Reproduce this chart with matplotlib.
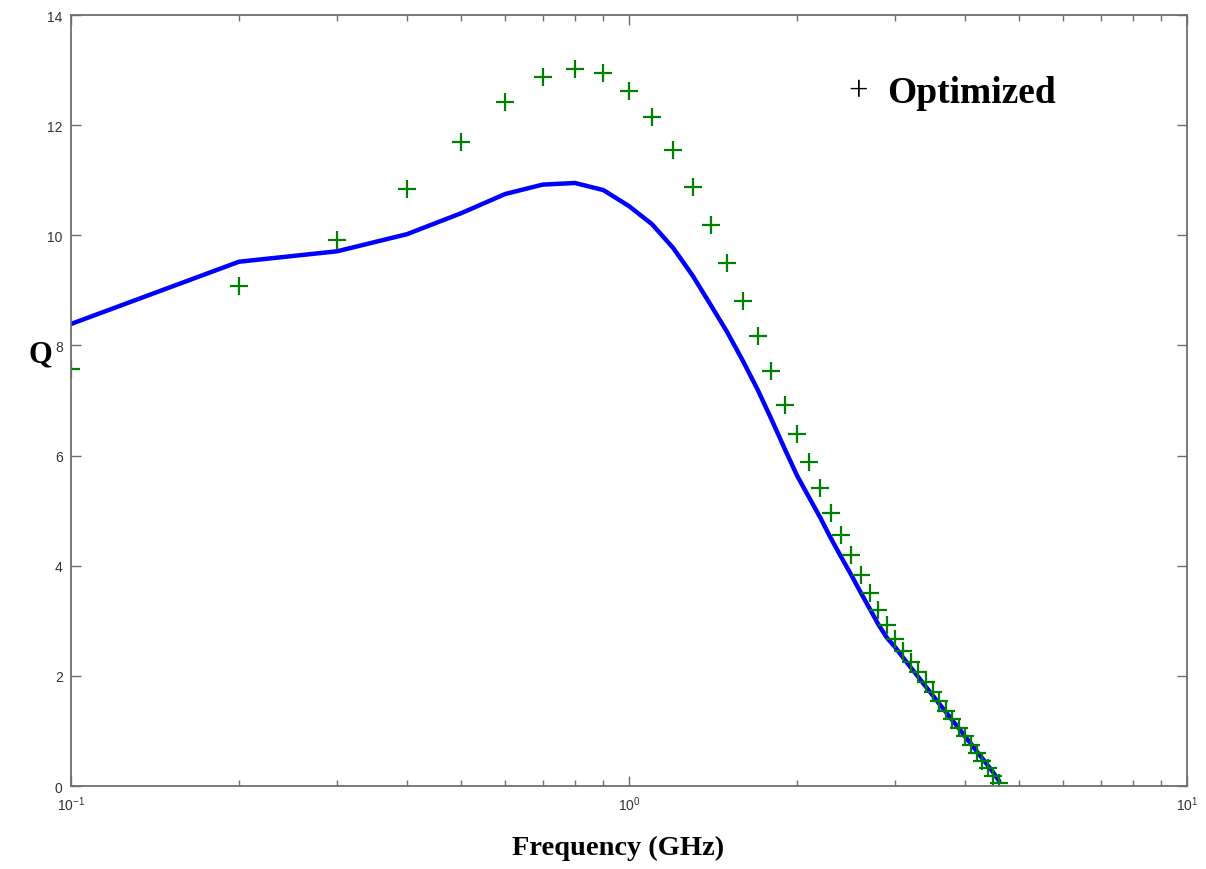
import matplotlib
matplotlib.use("Agg")
import matplotlib.pyplot as plt

# frequency points (GHz)
freq = [0.1, 0.2, 0.3, 0.4, 0.5, 0.6, 0.7, 0.8, 0.9, 1.0,
        1.1, 1.2, 1.3, 1.4, 1.5, 1.6, 1.7, 1.8, 1.9, 2.0,
        2.1, 2.2, 2.3, 2.4, 2.5, 2.6, 2.7, 2.8, 2.9, 3.0,
        3.1, 3.2, 3.3, 3.4, 3.5, 3.6, 3.7, 3.8, 3.9, 4.0,
        4.1, 4.2, 4.3, 4.4, 4.5, 4.6]

# blue curve
q_line = [8.39, 9.52, 9.71, 10.02, 10.40, 10.75, 10.92, 10.95, 10.82, 10.53,
          10.20, 9.77, 9.27, 8.74, 8.24, 7.72, 7.20, 6.66, 6.13, 5.64,
          5.25, 4.88, 4.50, 4.16, 3.84, 3.52, 3.22, 2.93, 2.69, 2.52,
          2.33, 2.15, 1.98, 1.81, 1.65, 1.49, 1.34, 1.19, 1.05, 0.90,
          0.77, 0.63, 0.50, 0.37, 0.24, 0.10]

# optimized (green +)
q_opt = [7.57, 9.08, 9.91, 10.84, 11.69, 12.42, 12.87, 13.02, 12.95, 12.62,
         12.15, 11.55, 10.88, 10.19, 9.49, 8.81, 8.17, 7.54, 6.92, 6.39,
         5.89, 5.41, 4.95, 4.55, 4.19, 3.83, 3.50, 3.20, 2.92, 2.67,
         2.45, 2.26, 2.07, 1.89, 1.71, 1.54, 1.37, 1.21, 1.05, 0.90,
         0.75, 0.60, 0.46, 0.32, 0.18, 0.05]

xtick_vals = [0.1, 1, 10]
xtick_labels = [r"$\mathregular{10^{-1}}$", r"$\mathregular{10^{0}}$", r"$\mathregular{10^{1}}$"]
ytick_vals = [0, 2, 4, 6, 8, 10, 12, 14]

plt.rcParams['font.family'] = ['Liberation Sans', 'DejaVu Sans']

fig = plt.figure(figsize=(12.06, 8.70), dpi=100)
ax = fig.add_axes([0.0589, 0.0954, 0.9253, 0.8862])

ax.plot(freq, q_line, color='#0000ff', linewidth=3.2, solid_joinstyle='round')
ax.plot(freq, q_opt, linestyle='none', marker='+', color='#008000',
        markersize=13, markeredgewidth=1.6)

ax.set_xscale('log')
ax.set_xlim(0.1, 10)
ax.set_ylim(0, 14)
ax.set_xticks(xtick_vals)
ax.set_xticklabels(xtick_labels)
ax.set_yticks(ytick_vals)

for s in ax.spines.values():
    s.set_color('#6e6e6e')
    s.set_linewidth(1.3)
ax.tick_params(which='both', direction='in', top=True, right=True,
               color='#6e6e6e', labelcolor='#333333', labelsize=10)
ax.tick_params(which='major', length=7, width=1.0, pad=6)
ax.tick_params(which='minor', length=4, width=1.0)

serif = ['Liberation Serif', 'DejaVu Serif']
fig.text(0.0332, 0.592, 'Q', family=serif, fontweight='bold', fontsize=22,
         ha='center', va='center')
fig.text(0.5125, 0.0253, 'Frequency (GHz)', family=serif, fontweight='bold',
         fontsize=20.5, ha='center', va='center')

ax.text(0.705, 0.900, '+', transform=ax.transAxes, family=serif,
        fontsize=25, ha='center', va='center')
ax.text(0.731, 0.900, 'Optimized', transform=ax.transAxes, family=serif,
        fontweight='bold', fontsize=27, ha='left', va='center')

fig.savefig('out.png', dpi=100, facecolor='white')
